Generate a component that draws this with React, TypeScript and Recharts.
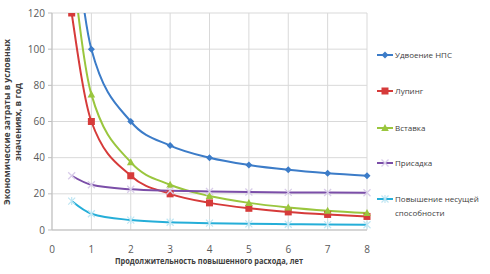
import { CartesianGrid, Line, LineChart, XAxis, YAxis } from "recharts";

const years = [0.5, 1, 2, 3, 4, 5, 6, 7, 8];
const doubling = [180, 100, 60, 46.7, 40, 36, 33.3, 31.4, 30];
const looping = [120, 60, 30, 20, 15, 12, 10, 8.6, 7.5];
const insert = [150, 75, 37.5, 25, 18.8, 15, 12.5, 10.7, 9.4];
const additive = [30, 25, 22.5, 21.7, 21.3, 21, 20.8, 20.7, 20.6];
const capacity = [16, 9, 5.5, 4.3, 3.8, 3.4, 3.2, 3, 2.9];
const xTicks = [0, 1, 2, 3, 4, 5, 6, 7, 8];
const yTicks = [0, 20, 40, 60, 80, 100, 120];

const data = years.map((x, i) => ({
  x,
  doubling: doubling[i],
  looping: looping[i],
  insert: insert[i],
  additive: additive[i],
  capacity: capacity[i],
}));

type Shape = "diamond" | "square" | "triangle" | "cross" | "star";

const series: { key: string; name: string[]; color: string; marker: string; shape: Shape }[] = [
  { key: "doubling", name: ["Удвоение НПС"], color: "#3c7cc8", marker: "#3c7cc8", shape: "diamond" },
  { key: "looping", name: ["Лупинг"], color: "#d63b3a", marker: "#d63b3a", shape: "square" },
  { key: "insert", name: ["Вставка"], color: "#9ac63e", marker: "#9ac63e", shape: "triangle" },
  { key: "additive", name: ["Присадка"], color: "#7b4ea8", marker: "#d9cdea", shape: "cross" },
  { key: "capacity", name: ["Повышение несущей", "способности"], color: "#25aed8", marker: "#bfe6f3", shape: "star" },
];

const font = "'Open Sans', 'Liberation Sans', sans-serif";

function Marker({ shape, cx, cy, color }: { shape: Shape; cx: number; cy: number; color: string }) {
  if (shape === "diamond")
    return <path d={`M${cx},${cy - 3.5}L${cx + 3.5},${cy}L${cx},${cy + 3.5}L${cx - 3.5},${cy}Z`} fill={color} />;
  if (shape === "square") return <rect x={cx - 3.5} y={cy - 3.5} width={7} height={7} fill={color} />;
  if (shape === "triangle")
    return <path d={`M${cx},${cy - 4}L${cx + 3.8},${cy + 3}L${cx - 3.8},${cy + 3}Z`} fill={color} />;
  if (shape === "cross")
    return (
      <path d={`M${cx - 3.5},${cy - 3.5}L${cx + 3.5},${cy + 3.5}M${cx - 3.5},${cy + 3.5}L${cx + 3.5},${cy - 3.5}`} stroke={color} strokeWidth={1.3} />
    );
  return (
    <path
      d={`M${cx - 3.5},${cy - 3.5}L${cx + 3.5},${cy + 3.5}M${cx - 3.5},${cy + 3.5}L${cx + 3.5},${cy - 3.5}M${cx},${cy - 4}L${cx},${cy + 4}`}
      stroke={color}
      strokeWidth={1.2}
    />
  );
}

const makeDot = (shape: Shape, color: string) => (props: any) => {
  const { cx, cy, value, index } = props;
  if (value == null || value > 120 || cx == null) return <g key={index} />;
  return (
    <g key={index}>
      <Marker shape={shape} cx={cx} cy={cy} color={color} />
    </g>
  );
};

export default function App() {
  return (
    <div style={{ position: "absolute", left: 0, top: 0, width: 490, height: 274, background: "#fff", fontFamily: font }}>
      <LineChart width={490} height={274} data={data} margin={{ top: 13, right: 123, bottom: 0, left: 0 }}>
        <CartesianGrid stroke="#d9d9d9" />
        <XAxis
          dataKey="x"
          type="number"
          domain={[0, 8]}
          ticks={xTicks}
          height={44}
          stroke="#bfbfbf"
          tickLine={false}
          tick={{ fill: "#595959", fontSize: 10, fontFamily: font }}
          tickMargin={10}
        />
        <YAxis
          type="number"
          domain={[0, 120]}
          ticks={yTicks}
          width={52}
          allowDataOverflow
          stroke="#bfbfbf"
          tickSize={4}
          tick={{ fill: "#595959", fontSize: 10, fontFamily: font }}
          tickMargin={3}
        />
        {series.map((s) => (
          <Line
            key={s.key}
            dataKey={s.key}
            type="monotone"
            stroke={s.color}
            strokeWidth={2}
            dot={makeDot(s.shape, s.marker)}
            activeDot={false}
            isAnimationActive={false}
          />
        ))}
      </LineChart>
      <svg width={490} height={274} style={{ position: "absolute", left: 0, top: 0, pointerEvents: "none" }}>
        <text
          transform="translate(10,122) rotate(-90)"
          textAnchor="middle"
          fontSize={8}
          fontWeight="bold"
          textLength={166}
          lengthAdjust="spacingAndGlyphs"
          fill="#404040"
          fontFamily={font}
        >
          Экономические затраты в условных
        </text>
        <text
          transform="translate(21,122) rotate(-90)"
          textAnchor="middle"
          fontSize={8}
          fontWeight="bold"
          textLength={78}
          lengthAdjust="spacingAndGlyphs"
          fill="#404040"
          fontFamily={font}
        >
          значениях, в год
        </text>
        <text
          x={209}
          y={264}
          textAnchor="middle"
          fontSize={8}
          fontWeight="bold"
          textLength={188}
          lengthAdjust="spacingAndGlyphs"
          fill="#404040"
          fontFamily={font}
        >
          Продолжительность повышенного расхода, лет
        </text>
        {series.map((s, i) => {
          const y = [55, 91, 128, 163, 199][i];
          return (
            <g key={s.key}>
              <line x1={377} x2={393} y1={y} y2={y} stroke={s.color} strokeWidth={2} />
              <Marker shape={s.shape} cx={385} cy={y} color={s.marker} />
              {s.name.map((t, j) => (
                <text key={j} x={395} y={y + 3 + j * 14} fontSize={8} fill="#404040" fontFamily={font}>
                  {t}
                </text>
              ))}
            </g>
          );
        })}
      </svg>
    </div>
  );
}
